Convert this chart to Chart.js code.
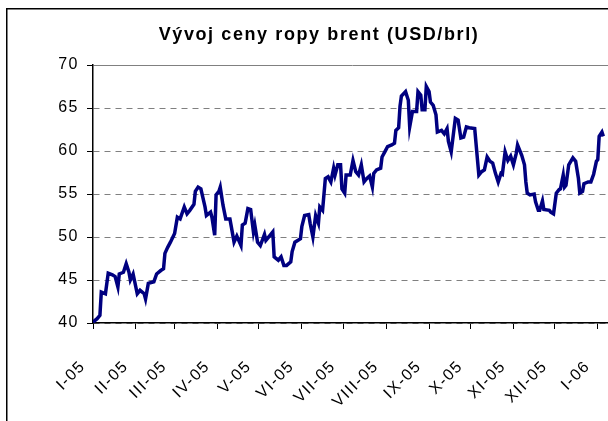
<!DOCTYPE html>
<html>
<head>
<meta charset="utf-8">
<script src="https://cdn.jsdelivr.net/npm/chart.js@4/dist/chart.umd.min.js"></script>
<style>
  html, body { margin: 0; padding: 0; background: #fff; overflow: hidden; }
  #wrap { width: 608px; height: 421px; overflow: hidden; }
</style>
</head>
<body>
<div id="wrap"><canvas id="brentChart" width="640" height="421"></canvas></div>
<script>
const chartTitle = 'Vývoj ceny ropy brent (USD/brl)';

// month start labels on the x axis
const monthLabels = ['I-05', 'II-05', 'III-05', 'IV-05', 'V-05', 'VI-05', 'VII-05',
    'VIII-05', 'IX-05', 'X-05', 'XI-05', 'XII-05', 'I-06'];
const monthStarts = ['2005-01-01', '2005-02-01', '2005-03-01', '2005-04-01', '2005-05-01',
    '2005-06-01', '2005-07-01', '2005-08-01', '2005-09-01', '2005-10-01', '2005-11-01',
    '2005-12-01', '2006-01-01'];

// brent price
const dates = [
    '2005-01-01', '2005-01-04', '2005-01-06', '2005-01-07', '2005-01-10', '2005-01-12',
    '2005-01-15', '2005-01-17', '2005-01-19', '2005-01-20', '2005-01-23', '2005-01-25',
    '2005-01-27', '2005-01-28', '2005-01-30', '2005-02-02', '2005-02-04', '2005-02-07',
    '2005-02-08', '2005-02-10', '2005-02-14', '2005-02-16', '2005-02-19', '2005-02-21',
    '2005-02-22', '2005-02-24', '2005-02-26', '2005-03-01', '2005-03-03', '2005-03-05',
    '2005-03-08', '2005-03-10', '2005-03-12', '2005-03-15', '2005-03-16', '2005-03-18',
    '2005-03-20', '2005-03-23', '2005-03-24', '2005-03-27', '2005-03-28', '2005-03-30',
    '2005-03-31', '2005-04-02', '2005-04-03', '2005-04-05', '2005-04-07', '2005-04-10',
    '2005-04-11', '2005-04-13', '2005-04-15', '2005-04-18', '2005-04-19', '2005-04-21',
    '2005-04-23', '2005-04-25', '2005-04-27', '2005-04-28', '2005-04-30', '2005-05-02',
    '2005-05-05', '2005-05-06', '2005-05-09', '2005-05-11', '2005-05-12', '2005-05-15',
    '2005-05-17', '2005-05-19', '2005-05-21', '2005-05-24', '2005-05-25', '2005-05-27',
    '2005-05-31', '2005-06-01', '2005-06-03', '2005-06-06', '2005-06-07', '2005-06-09',
    '2005-06-11', '2005-06-13', '2005-06-14', '2005-06-16', '2005-06-18', '2005-06-20',
    '2005-06-22', '2005-06-24', '2005-06-25', '2005-06-27', '2005-06-29', '2005-06-30',
    '2005-07-02', '2005-07-03', '2005-07-06', '2005-07-08', '2005-07-10', '2005-07-12',
    '2005-07-14', '2005-07-16', '2005-07-18', '2005-07-20', '2005-07-22', '2005-07-23',
    '2005-07-25', '2005-07-28', '2005-07-29', '2005-07-31', '2005-08-02', '2005-08-05',
    '2005-08-07', '2005-08-08', '2005-08-10', '2005-08-11', '2005-08-12', '2005-08-15',
    '2005-08-17', '2005-08-18', '2005-08-20', '2005-08-23', '2005-08-24', '2005-08-26',
    '2005-08-27', '2005-08-29', '2005-08-30', '2005-09-01', '2005-09-02', '2005-09-04',
    '2005-09-06', '2005-09-07', '2005-09-10', '2005-09-12', '2005-09-14', '2005-09-15',
    '2005-09-17', '2005-09-20', '2005-09-22', '2005-09-24', '2005-09-26', '2005-09-28',
    '2005-09-30', '2005-10-04', '2005-10-07', '2005-10-09', '2005-10-11', '2005-10-13',
    '2005-10-15', '2005-10-17', '2005-10-19', '2005-10-21', '2005-10-23', '2005-10-24',
    '2005-10-26', '2005-10-28', '2005-10-30', '2005-11-01', '2005-11-03', '2005-11-04',
    '2005-11-07', '2005-11-09', '2005-11-10', '2005-11-11', '2005-11-13', '2005-11-16',
    '2005-11-17', '2005-11-19', '2005-11-20', '2005-11-22', '2005-11-23', '2005-11-27',
    '2005-11-28', '2005-11-30', '2005-12-02', '2005-12-04', '2005-12-05', '2005-12-07',
    '2005-12-08', '2005-12-09', '2005-12-11', '2005-12-14', '2005-12-16', '2005-12-18',
    '2005-12-19', '2005-12-21', '2005-12-22', '2005-12-25', '2005-12-27', '2005-12-29',
    '2005-12-31', '2006-01-01', '2006-01-02', '2006-01-04', '2006-01-05'
];
const prices = [
    40.1, 40.5, 40.9, 43.6, 43.4, 45.8,
    45.6, 45.4, 44.2, 45.7, 45.9, 46.9,
    45.9, 45.0, 45.7, 43.4, 43.8, 43.4,
    42.8, 44.6, 44.8, 45.7, 46.1, 46.3,
    48.1, 48.8, 49.4, 50.4, 52.3, 52.1,
    53.5, 52.7, 53.1, 53.8, 55.3, 55.8,
    55.6, 53.5, 52.5, 52.9, 52.3, 50.2,
    54.9, 55.3, 55.8, 53.7, 52.1, 52.1,
    51.2, 49.4, 50.1, 49.0, 51.4, 51.6,
    53.3, 53.2, 50.6, 51.4, 49.4, 49.0,
    50.3, 49.6, 50.2, 50.6, 47.7, 47.3,
    47.7, 46.7, 46.7, 47.1, 48.3, 49.4,
    49.8, 51.2, 52.5, 52.6, 51.6, 50.0,
    52.5, 51.6, 53.5, 53.1, 56.8, 57.0,
    56.4, 58.0, 57.2, 58.4, 58.4, 55.6,
    55.1, 57.2, 57.2, 58.9, 57.6, 57.2,
    58.4, 56.4, 56.8, 57.1, 55.8, 57.4,
    57.8, 58.0, 59.3, 59.9, 60.5, 60.7,
    60.9, 62.4, 62.7, 65.2, 66.4, 66.9,
    65.9, 62.8, 64.6, 64.6, 66.9, 66.5,
    64.8, 64.8, 67.5, 66.9, 65.7, 65.3,
    64.2, 62.2, 62.4, 62.0, 62.6, 61.1,
    59.9, 63.8, 63.6, 61.5, 61.6, 62.8,
    62.7, 62.6, 57.2, 57.6, 57.8, 59.3,
    58.8, 58.6, 57.4, 56.4, 57.4, 57.3,
    59.9, 58.9, 59.4, 58.4, 59.7, 60.7,
    59.5, 58.4, 56.4, 55.1, 54.9, 55.0,
    54.1, 53.1, 53.1, 54.2, 53.2, 53.1,
    52.9, 52.7, 55.1, 55.5, 55.6, 57.2,
    55.8, 56.0, 58.4, 59.2, 58.8, 56.8,
    55.1, 55.3, 56.2, 56.4, 56.4, 57.3,
    58.8, 59.0, 61.7, 62.2, 61.7
];

const yMin = 40, yMax = 70, yStep = 5;

// days since 1.1.2005
const dayOf = s => (Date.parse(s) - Date.parse('2005-01-01')) / 86400000;
const tickDays = monthStarts.map(dayOf);
const points = dates.map((d, i) => ({x: dayOf(d), y: prices[i]}));

const titleAndFrame = {
    id: 'titleAndFrame',
    beforeDraw(chart) {
        // excel-like wide spacing for the axis labels
        chart.ctx.letterSpacing = '1.5px';
    },
    afterDraw(chart) {
        const ctx = chart.ctx;
        ctx.save();
        ctx.strokeStyle = '#000';
        ctx.lineWidth = 1.5;
        ctx.strokeRect(6.75, 8.75, 700, 500);
        ctx.fillStyle = '#000';
        ctx.font = 'bold 18px "Liberation Sans", Arial, sans-serif';
        ctx.letterSpacing = '1.6px';
        ctx.textAlign = 'center';
        ctx.textBaseline = 'middle';
        ctx.fillText(chartTitle, 319, 35);
        ctx.restore();
    }
};

var brentChart = document.getElementById('brentChart').getContext('2d');
new Chart(brentChart, {
    type: 'line',
    data: {
        datasets: [{
            data: points,
            borderColor: '#000080',
            borderWidth: 3.5,
            pointRadius: 0,
            tension: 0,
            fill: false
        }]
    },
    plugins: [titleAndFrame],
    options: {
        responsive: false,
        animation: false,
        parsing: false,
        layout: {
            padding: {left: 0, right: 24, top: 65, bottom: 0}
        },
        plugins: {
            legend: {display: false},
            tooltip: {enabled: false},
            title: {display: false}
        },
        scales: {
            x: {
                type: 'linear',
                min: 0,
                max: 375,
                afterBuildTicks: scale => {
                    scale.ticks = tickDays.map(v => ({value: v}));
                },
                afterFit: scale => {
                    scale.height = 98;
                },
                ticks: {
                    autoSkip: false,
                    minRotation: 45,
                    maxRotation: 45,
                    padding: 28,
                    labelOffset: -10,
                    color: '#000',
                    font: {family: '"Liberation Sans", Arial, sans-serif', size: 16},
                    callback: value => monthLabels[tickDays.indexOf(value)]
                },
                grid: {
                    drawOnChartArea: false,
                    drawTicks: true,
                    tickLength: 6,
                    tickColor: '#000'
                },
                border: {color: '#000', width: 1.5}
            },
            y: {
                min: yMin,
                max: yMax,
                afterFit: scale => {
                    scale.width = 93;
                },
                ticks: {
                    stepSize: yStep,
                    padding: 8,
                    color: '#000',
                    font: {family: '"Liberation Sans", Arial, sans-serif', size: 16}
                },
                grid: {
                    color: '#808080',
                    lineWidth: 1,
                    tickLength: 6,
                    tickColor: '#000',
                    tickBorderDash: []
                },
                border: {
                    color: '#000',
                    width: 1.5,
                    dash: ctx => (ctx.tick && ctx.tick.value === yMax) ? [] : [6, 5]
                }
            }
        }
    }
});
</script>
</body>
</html>
